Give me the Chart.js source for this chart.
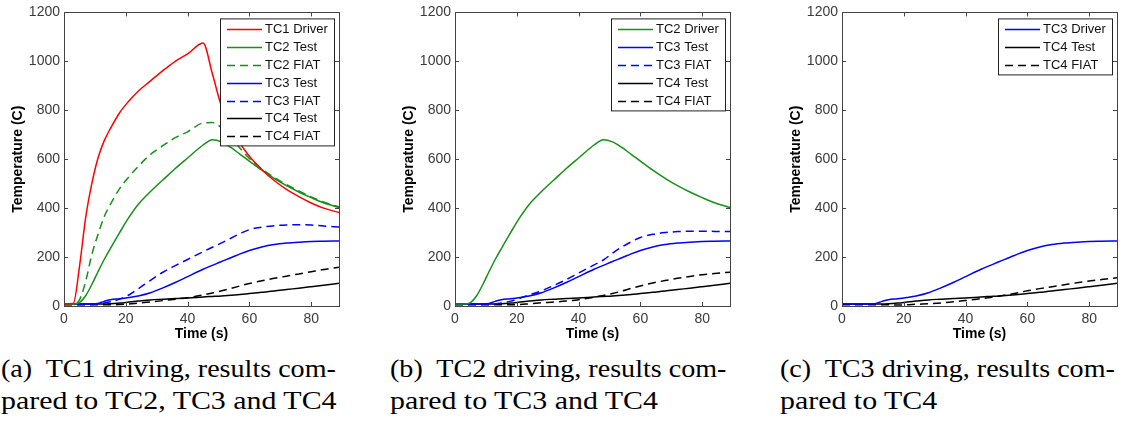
<!DOCTYPE html>
<html>
<head>
<meta charset="utf-8">
<script src="https://cdn.jsdelivr.net/npm/chart.js@4.4.1/dist/chart.umd.min.js"></script>
<style>
  html, body { margin: 0; padding: 0; background: #fff; }
  body { width: 1128px; height: 421px; position: relative; overflow: hidden; }
  .panel { position: absolute; top: 0; width: 345px; height: 345px; }
  .cap { position: absolute; top: 353px; font-family: "Liberation Serif", "Times New Roman", serif; font-size: 26px; line-height: 32px; color: #000; white-space: nowrap; }
  .cap div { transform-origin: 0 0; }
  .cap .l1 { transform: scaleX(1.08); }
  .cap .l2 { transform: scaleX(1.15); }
</style>
</head>
<body>
<div class="panel" style="left:0px"><canvas id="chartA" width="345" height="345"></canvas></div>
<div class="panel" style="left:391px"><canvas id="chartB" width="345" height="345"></canvas></div>
<div class="panel" style="left:778px"><canvas id="chartC" width="345" height="345"></canvas></div>

<div class="cap" style="left:1px"><div class="l1">(a)&nbsp; TC1 driving, results com-</div><div class="l2">pared to TC2, TC3 and TC4</div></div>
<div class="cap" style="left:390px"><div class="l1">(b)&nbsp; TC2 driving, results com-</div><div class="l2">pared to TC3 and TC4</div></div>
<div class="cap" style="left:780px"><div class="l1">(c)&nbsp; TC3 driving, results com-</div><div class="l2">pared to TC4</div></div>

<script>
// time base (s), shared by every curve
const time = [0, 3, 5, 7, 9, 11, 13, 15, 18, 21, 24, 28, 32, 36, 40, 45, 48, 51, 54, 57, 60, 64, 68, 72, 76, 80, 84, 89];

// measured thermocouples (C)
const tc1Test = [8, 10, 160, 360, 500, 605, 675, 725, 790, 838, 878, 920, 962, 1000, 1030, 1075, 950, 815, 735, 665, 612, 558, 513, 477, 447, 421, 400, 382];
const tc2Test = [8, 8, 14, 42, 88, 140, 190, 235, 300, 362, 415, 468, 515, 562, 605, 658, 680, 671, 648, 620, 592, 555, 522, 492, 466, 443, 422, 402];
const tc3Test = [8, 8, 8, 8, 8, 10, 19, 26, 30, 35, 41, 54, 74, 96, 120, 150, 166, 182, 197, 213, 227, 241, 251, 257, 261, 264, 265, 266];
const tc4Test = [8, 8, 8, 8, 8, 8, 8, 9, 12, 16, 20, 25, 28, 31, 33, 37, 39, 41, 44, 47, 51, 56, 61, 67, 73, 79, 85, 93];

// FIAT predictions, TC1 driving
const tc2FiatA = [8, 8, 25, 100, 210, 292, 365, 415, 480, 528, 570, 620, 655, 688, 712, 748, 750, 728, 690, 645, 603, 560, 526, 496, 470, 446, 425, 405];
const tc3FiatA = [6, 6, 6, 6, 6, 8, 12, 17, 28, 45, 70, 105, 138, 165, 190, 222, 240, 258, 277, 296, 312, 322, 328, 331, 332, 331, 327, 323];
const tc4FiatA = [5, 5, 5, 5, 5, 5, 5, 5, 6, 8, 12, 17, 22, 28, 34, 45, 53, 62, 72, 82, 92, 103, 113, 122, 131, 140, 149, 158];

// FIAT predictions, TC2 driving
const tc3FiatB = [6, 6, 6, 6, 6, 6, 8, 12, 20, 32, 45, 62, 84, 108, 135, 168, 188, 216, 241, 262, 280, 293, 300, 304, 306, 306, 305, 304];
const tc4FiatB = [5, 5, 5, 5, 5, 5, 5, 5, 5, 6, 9, 13, 16, 20, 26, 36, 43, 51, 61, 72, 82, 94, 104, 113, 121, 128, 133, 138];

// FIAT predictions, TC3 driving
const tc4FiatC = [5, 5, 5, 5, 5, 5, 5, 5, 4, 5, 7, 9, 12, 17, 22, 30, 35, 41, 47, 54, 62, 71, 79, 87, 95, 102, 108, 115];

const xMax = 89, xStep = 20;
const yMax = 1200, yStep = 200;

const RED = '#ff0000', GREEN = '#169116', BLUE = '#0000ff', BLACK = '#000000';
const tickFont = { family: '"Liberation Sans", Arial, sans-serif', size: 14 };
const titleFont = { family: '"Liberation Sans", Arial, sans-serif', size: 14, weight: 'bold' };

function line(label, values, color, dashed) {
  return {
    label: label,
    data: time.map((t, i) => ({ x: t, y: values[i] })),
    borderColor: color,
    borderWidth: 1.5,
    borderDash: dashed ? [8, 5] : [],
    pointRadius: 0,
    fill: false,
    cubicInterpolationMode: 'monotone'
  };
}

// matlab style legend: white box with border, top right inside the axes
const boxLegend = {
  id: 'boxLegend',
  afterDatasetsDraw(chart) {
    const { ctx, chartArea } = chart;
    const sets = chart.data.datasets;
    ctx.save();
    ctx.font = '13px "Liberation Sans", Arial, sans-serif';
    const textW = Math.max(...sets.map(d => ctx.measureText(d.label).width));
    const rowH = 17.8;
    const w = Math.round(7 + 35 + 3 + textW + 6);
    const h = Math.round(11 + rowH * (sets.length - 1) + 9.5);
    const right = chartArea.right - 5, top = chartArea.top + 6;
    const left = right - w;
    ctx.fillStyle = '#fff';
    ctx.fillRect(left, top, w, h);
    ctx.strokeStyle = '#222';
    ctx.lineWidth = 1;
    ctx.strokeRect(left + 0.5, top + 0.5, w, h);
    sets.forEach((d, i) => {
      const y = Math.round(top + 11 + i * rowH) + 0.5;
      ctx.beginPath();
      ctx.setLineDash(d.borderDash);
      ctx.strokeStyle = d.borderColor;
      ctx.lineWidth = d.borderWidth;
      ctx.moveTo(left + 7, y);
      ctx.lineTo(left + 42, y);
      ctx.stroke();
      ctx.setLineDash([]);
      ctx.fillStyle = '#111';
      ctx.textBaseline = 'middle';
      ctx.fillText(d.label, left + 45, y);
    });
    ctx.restore();
  }
};

// box around the axes with inward tick marks on all four sides
const axesBox = {
  id: 'axesBox',
  afterDraw(chart) {
    const { ctx, chartArea: a, scales } = chart;
    ctx.save();
    ctx.strokeStyle = '#444';
    ctx.lineWidth = 1;
    ctx.strokeRect(Math.round(a.left) + 0.5, Math.round(a.top) + 0.5, Math.round(a.width), Math.round(a.height));
    ctx.beginPath();
    scales.x.ticks.forEach(t => {
      const px = Math.round(scales.x.getPixelForValue(t.value)) + 0.5;
      ctx.moveTo(px, a.bottom); ctx.lineTo(px, a.bottom - 4);
      ctx.moveTo(px, a.top); ctx.lineTo(px, a.top + 4);
    });
    scales.y.ticks.forEach(t => {
      const py = Math.round(scales.y.getPixelForValue(t.value)) + 0.5;
      ctx.moveTo(a.left, py); ctx.lineTo(a.left + 4, py);
      ctx.moveTo(a.right, py); ctx.lineTo(a.right - 4, py);
    });
    ctx.stroke();
    ctx.restore();
  }
};

function makeChart(id, datasets) {
  return new Chart(document.getElementById(id), {
    type: 'line',
    data: { datasets: datasets },
    options: {
      responsive: false,
      animation: false,
      events: [],
      layout: { padding: { top: 9, right: 6, left: 0, bottom: 0 } },
      plugins: { legend: { display: false }, tooltip: { enabled: false } },
      scales: {
        x: {
          type: 'linear', min: 0, max: xMax,
          grid: { display: false, drawTicks: false },
          border: { display: false },
          ticks: { stepSize: xStep, includeBounds: false, font: tickFont, color: '#3a3a3a', padding: 5, maxRotation: 0, callback: v => String(v) },
          title: { display: true, text: 'Time (s)', font: titleFont, color: '#000', padding: { top: 0, bottom: 2 } },
          afterFit: s => { s.height = 39; }
        },
        y: {
          type: 'linear', min: 0, max: yMax,
          grid: { display: false, drawTicks: false },
          border: { display: false },
          ticks: { stepSize: yStep, font: tickFont, color: '#3a3a3a', padding: 4, callback: v => String(v) },
          title: { display: true, text: 'Temperature (C)', font: titleFont, color: '#000', padding: { top: 10, bottom: 0 } },
          afterFit: s => { s.width = 64; }
        }
      }
    },
    plugins: [boxLegend, axesBox]
  });
}

makeChart('chartA', [
  line('TC1 Driver', tc1Test, RED, false),
  line('TC2 Test', tc2Test, GREEN, false),
  line('TC2 FIAT', tc2FiatA, GREEN, true),
  line('TC3 Test', tc3Test, BLUE, false),
  line('TC3 FIAT', tc3FiatA, BLUE, true),
  line('TC4 Test', tc4Test, BLACK, false),
  line('TC4 FIAT', tc4FiatA, BLACK, true)
]);

makeChart('chartB', [
  line('TC2 Driver', tc2Test, GREEN, false),
  line('TC3 Test', tc3Test, BLUE, false),
  line('TC3 FIAT', tc3FiatB, BLUE, true),
  line('TC4 Test', tc4Test, BLACK, false),
  line('TC4 FIAT', tc4FiatB, BLACK, true)
]);

makeChart('chartC', [
  line('TC3 Driver', tc3Test, BLUE, false),
  line('TC4 Test', tc4Test, BLACK, false),
  line('TC4 FIAT', tc4FiatC, BLACK, true)
]);
</script>
</body>
</html>
